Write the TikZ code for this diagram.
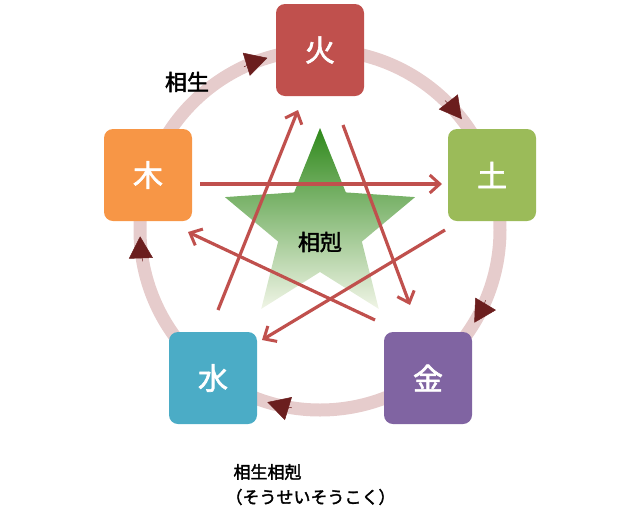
\documentclass[tikz,border=0pt]{standalone}
\usepackage{fontspec}
\setmainfont{Noto Sans CJK JP}
\newfontfamily\cjkb[FakeBold=2]{Noto Sans CJK JP}
\usetikzlibrary{arrows.meta}
\definecolor{fire}{HTML}{C0504D}
\definecolor{earth}{HTML}{9BBB59}
\definecolor{metal}{HTML}{8064A2}
\definecolor{water}{HTML}{4BACC6}
\definecolor{wood}{HTML}{F79646}
\definecolor{ringc}{HTML}{E6CCCC}
\definecolor{tipc}{HTML}{6B1E1E}
\begin{document}
\begin{tikzpicture}[x=1pt,y=-1pt,
  elem/.style={rounded corners=9pt,minimum width=88pt,minimum height=92pt,text=white,font=\cjkb\fontsize{30}{32}\selectfont},
  rel/.style={draw=fire,line width=3.2pt,-{Straight Barb[length=10pt,width=18pt,line width=3pt]}},
  ringtip/.style={draw=tipc,line width=0.5pt,-{Triangle[length=22pt,width=24pt]},tipc},
  lbl/.style={font=\cjkb\fontsize{22}{24}\selectfont}]
\useasboundingbox (0,0) rectangle (640,531);
\draw[ringc,line width=13pt] (320,230) circle[radius=180];
\foreach \a in {108,39,-30,-106,183}{
  \draw[ringtip] ([shift={(-\a-7:180)}]320,230) arc[start angle=-\a-7,end angle=-\a+1,radius=180];
}
\begin{scope}[shift={(320,228)}]
\shade[top color=green!45!black!70!earth, bottom color=earth!15] (-90:100) -- (-126:44) -- (-162:100) -- (-198:44) -- (-234:100) -- (-270:44) -- (-306:100) -- (-342:44) -- (-18:100) -- (-54:44) -- cycle;
\end{scope}
\node[elem,fill=fire] (fire) at (320,50) {火};
\node[elem,fill=earth] (earth) at (492,175) {土};
\node[elem,fill=metal] (metal) at (428,378) {金};
\node[elem,fill=water] (water) at (213,378) {水};
\node[elem,fill=wood] (wood) at (148,175) {木};
\coordinate (a1) at (200,184); \coordinate (a2) at (442,184);
\coordinate (b1) at (445,230); \coordinate (b2) at (262,340);
\coordinate (c1) at (218,310); \coordinate (c2) at (298,110);
\coordinate (d1) at (343,125); \coordinate (d2) at (410,305);
\coordinate (e1) at (375,320); \coordinate (e2) at (188,232);
\draw[rel] (a1) -- (a2);
\draw[rel] (b1) -- (b2);
\draw[rel] (c1) -- (c2);
\draw[rel] (d1) -- (d2);
\draw[rel] (e1) -- (e2);
\node[lbl] (sheng) at (187,82) {相生};
\node[lbl] (ke) at (320,242) {相剋};
\node[font=\cjkb\fontsize{17}{19}\selectfont,anchor=west] (t1) at (230,472) {相生相剋};
\node[font=\cjkb\fontsize{17}{19}\selectfont,anchor=west] (t2) at (222,497) {（そうせいそうこく）};
\end{tikzpicture}
\end{document}
